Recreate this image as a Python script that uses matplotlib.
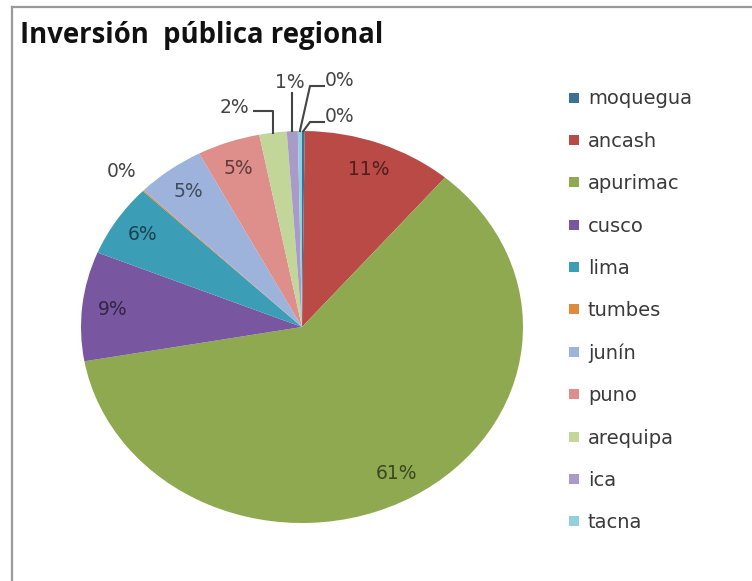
import numpy as np
import matplotlib
matplotlib.use("Agg")
import matplotlib.pyplot as plt

# regional public investment shares (percent)
regions = ["moquegua", "ancash", "apurimac", "cusco", "lima", "tumbes",
           "junín", "puno", "arequipa", "ica", "tacna"]
shares = [0.2, 11.0, 61.0, 9.0, 6.0, 0.1, 5.0, 4.6, 2.0, 0.8, 0.3]

COLORS = ["#3E6F95", "#B94A45", "#8EA94F", "#7956A0", "#3B9EB6", "#E08A3C",
          "#9DB3DB", "#DE8E8B", "#C2D69A", "#A99BC8", "#93CFDD"]

W, H = 752, 581
plt.rcParams["font.family"] = "DejaVu Sans"

fig = plt.figure(figsize=(W / 100, H / 100), dpi=100)
fig.patch.set_facecolor("white")

# outer chart frame (runs off the right and bottom)
frame = fig.add_axes([12 / W, -0.05, 1.0, 1 - 7 / H + 0.05])
frame.set_xticks([]); frame.set_yticks([])
frame.patch.set_alpha(0)
for s in frame.spines.values():
    s.set_color("#9a9a9a"); s.set_linewidth(1.6)

fig.text(20 / W, 1 - 43 / H, "Inversión  pública regional", fontsize=19.8,
         fontweight="bold", color="#111111", va="baseline", family="Open Sans")

# pie area is stretched horizontally: centre (302, 327), rx 221, ry 196 px
cx, cy, rx, ry = 302, 327, 221, 196
ax = fig.add_axes([(cx - rx) / W, (H - cy - ry) / H, 2 * rx / W, 2 * ry / H])

wedges, _, autotexts = ax.pie(shares, colors=COLORS, startangle=90,
                              counterclock=False, radius=1.0,
                              autopct="%1.0f%%", pctdistance=0.86,
                              wedgeprops=dict(linewidth=0),
                              textprops=dict(fontsize=13.5))
ax.set_aspect("auto")
ax.set_xlim(-1, 1)
ax.set_ylim(-1, 1)


def darker(c, f=0.42):
    r, g, b = matplotlib.colors.to_rgb(c)
    return (r * f, g * f, b * f)


for w, t, c in zip(wedges, autotexts, COLORS):
    t.set_color(darker(c))

# mid angle of each wedge, in radians
mids = [np.deg2rad((w.theta1 + w.theta2) / 2) for w in wedges]


def edge(i):
    return np.cos(mids[i]), np.sin(mids[i])


def px(x, y):
    return (x - cx) / rx, (cy - y) / ry


GREY = "#444444"
LW = 1.5
i_moq, i_tum, i_are, i_ica, i_tac = 0, 5, 8, 9, 10

# tumbes label sits just outside the rim
x, y = edge(i_tum)
autotexts[i_tum].set_position((1.14 * x, 1.14 * y))
autotexts[i_tum].set_color(GREY)

# arequipa: up from rim then left
ex, ey = edge(i_are)
dy = px(0, 111)[1]; dx = px(254, 0)[0]
ax.plot([ex, ex, dx], [ey, dy, dy], color=GREY, lw=LW, clip_on=False)
autotexts[i_are].set_position((dx - 0.02, dy + 0.02))
autotexts[i_are].set_ha("right"); autotexts[i_are].set_color(GREY)

# ica: straight up
ex, ey = edge(i_ica)
ty = px(0, 93)[1]
ax.plot([ex, ex], [ey, ty], color=GREY, lw=LW, clip_on=False)
autotexts[i_ica].set_position((ex - 0.01, px(0, 83)[1]))
autotexts[i_ica].set_color(GREY)

# tacna and moquegua: diagonal then short dash right
for i, ly in ((i_tac, 86), (i_moq, 122)):
    ex, ey = edge(i)
    x0, y0 = px(310, ly)
    x1 = px(324, 0)[0]
    ax.plot([ex, x0, x1], [ey, y0, y0], color=GREY, lw=LW, clip_on=False)
    autotexts[i].set_position((x1 + 0.005, y0 + 0.03))
    autotexts[i].set_ha("left"); autotexts[i].set_color(GREY)

fig.legend(wedges, regions, loc="upper left",
           bbox_to_anchor=(551 / W, 1 - 72 / H), frameon=False,
           fontsize=14, handlelength=0.55, handleheight=0.42,
           handletextpad=0.45, labelspacing=1.2, labelcolor="#3a3a3a")

fig.savefig("out.png", dpi=100, facecolor="white")
